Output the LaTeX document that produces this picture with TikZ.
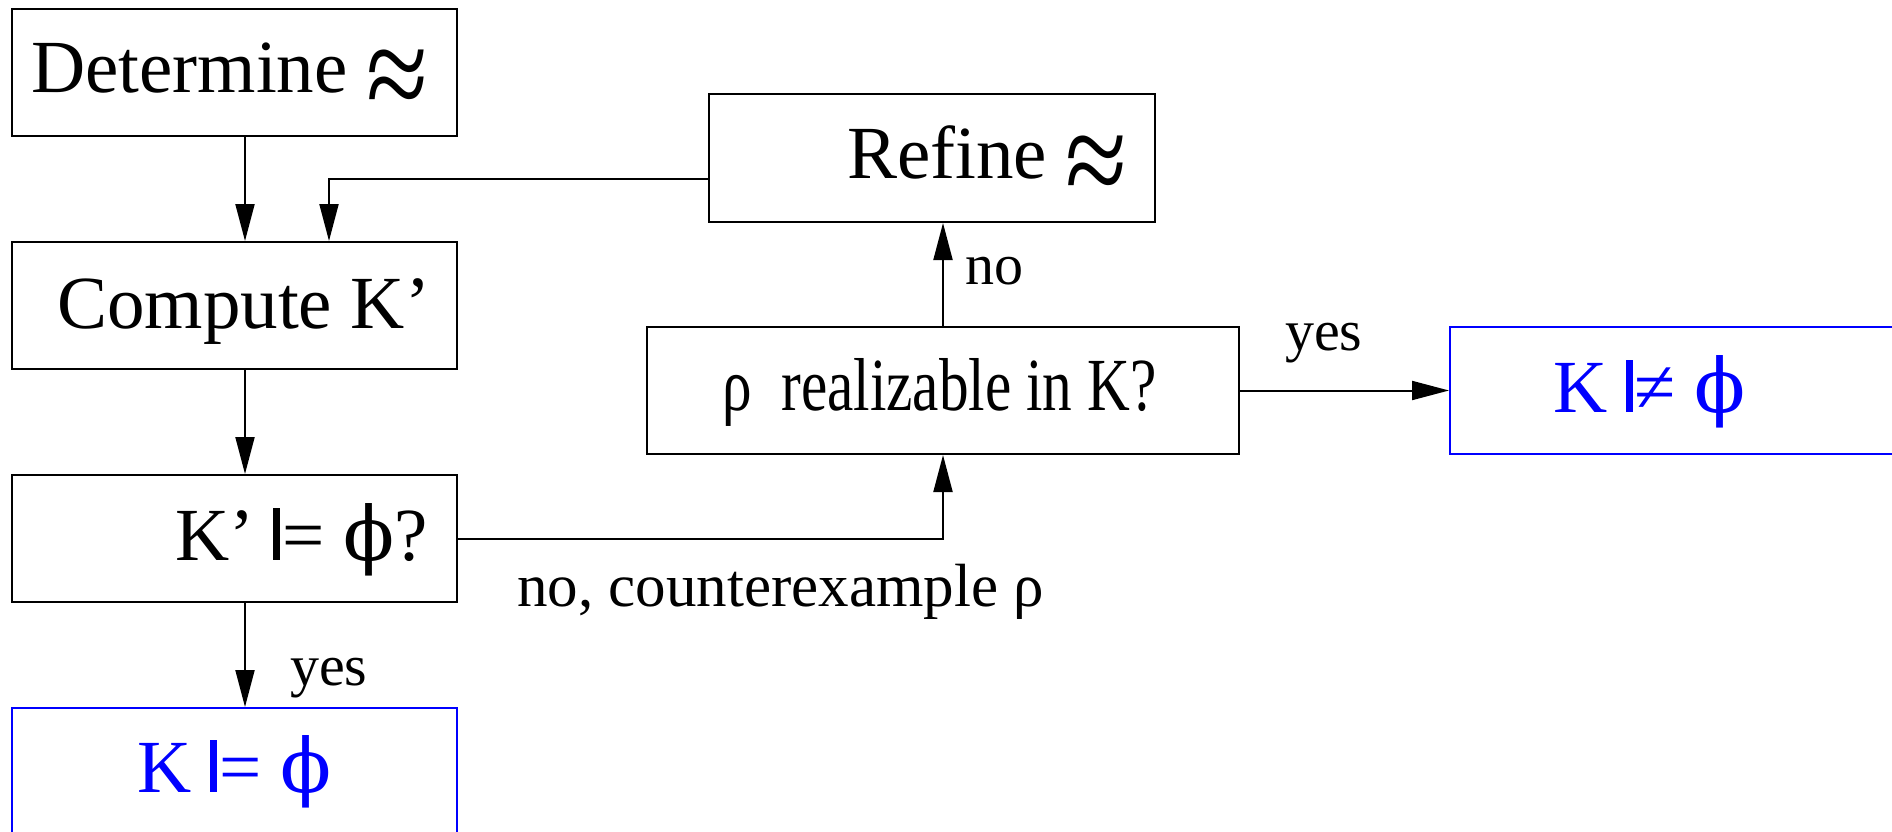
\documentclass[tikz,border=0pt]{standalone}
\usepackage{fontspec}
\setmainfont{Liberation Serif}
\newfontfamily\dvs{DejaVu Serif}
\usetikzlibrary{arrows.meta}
\definecolor{pureblue}{RGB}{0,0,255}
\newcommand{\mdl}{\rule{0.093em}{0.69em}\kern0.03em=}
\newcommand{\nmdl}{\rule{0.093em}{0.69em}\kern0.02em≠}
\newcommand{\phis}{{\dvs ϕ}}
\newcommand{\apx}{\raisebox{-0.36em}{\scalebox{1.5}[1.8]{≈}}}
\tikzset{
  box/.style={draw, line width=2pt, minimum width=445pt, minimum height=127pt, inner sep=0pt},
  bluebox/.style={box, draw=pureblue},
  txt/.style={anchor=base west, inner sep=0pt, font=\fontsize{75}{90}\selectfont},
  lbl/.style={anchor=base west, inner sep=0pt, font=\fontsize{58}{70}\selectfont},
  conn/.style={line width=2pt, -{Triangle[length=37pt,width=19pt]}},
}
\begin{document}
\begin{tikzpicture}[x=1pt,y=-1pt]
\useasboundingbox (0,0) rectangle (1892,832);
% boxes
\node[box] (det) at (234.5,73) {};
\node[box] (comp) at (234.5,305.5) {};
\node[box] (chk) at (234.5,538.5) {};
\node[bluebox] (ok) at (234.5,771.5) {};
\node[box, minimum width=446pt, minimum height=128pt] (ref) at (932,158) {};
\node[box, minimum width=592pt] (real) at (943,390.5) {};
\node[bluebox, minimum width=480pt] (bad) at (1690,390.5) {};
% texts
\node[txt] (tdet) at (31,93) {Determine \apx};
\node[txt] (tref) at (847,178) {Refine \apx};
\node[txt] (tcomp) at (57,328) {Compute K’};
\node[txt] (tchk) at (175,560) {K’ \mdl\ \phis?};
\node[txt, text=pureblue] (tok) at (137,792) {K \mdl\ \phis};
\node[txt, text=pureblue] (tbad) at (1553,412) {K \nmdl\ \phis};
\node[anchor=base west, inner sep=0pt, font=\fontsize{75}{90}\selectfont] (treal) at (722,410) {\scalebox{0.79}[1]{ρ\hspace{0.5em}realizable in K?}};
% labels
\node[lbl, font=\fontsize{61}{72}\selectfont] (lce) at (517,606) {no, counterexample ρ};
\node[lbl] (lno) at (965,284) {no};
\node[lbl] (lyes1) at (1285,350) {yes};
\node[lbl] (lyes2) at (290,685) {yes};
% connectors
\draw[conn] ([xshift=10.5pt]det.south) -- ([xshift=10.5pt]comp.north);
\draw[conn] ([xshift=10.5pt]comp.south) -- ([xshift=10.5pt]chk.north);
\draw[conn] ([xshift=10.5pt]chk.south) -- ([xshift=10.5pt]ok.north);
\draw[conn] ([yshift=-21pt]ref.west) -| ([xshift=94.5pt]comp.north);
\draw[conn] (chk.east) -| (real.south);
\draw[conn] (real.north) -- (real.north |- ref.south);
\draw[conn] (real.east) -- (bad.west);
\end{tikzpicture}
\end{document}
